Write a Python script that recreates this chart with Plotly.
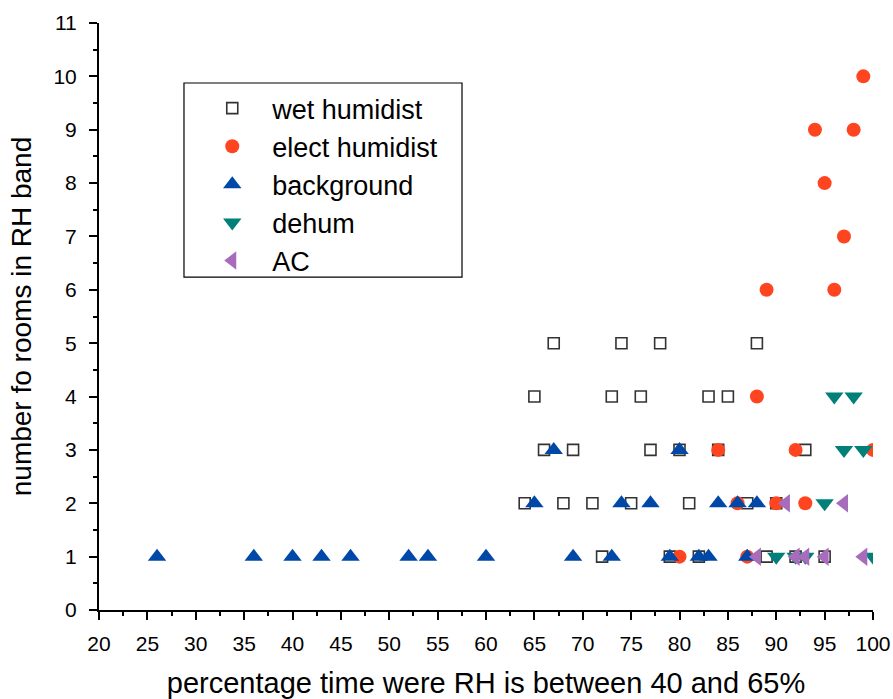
import plotly.graph_objects as go

# ---- data ----
wet_x = [67, 74, 78, 88, 65, 73, 76, 83, 85, 66, 69, 77, 80, 84, 93,
         64, 68, 71, 75, 81, 87, 90, 72, 79, 82, 89, 92, 95]
wet_y = [5, 5, 5, 5, 4, 4, 4, 4, 4, 3, 3, 3, 3, 3, 3,
         2, 2, 2, 2, 2, 2, 2, 1, 1, 1, 1, 1, 1]

elect_x = [99, 94, 98, 95, 97, 89, 96, 88, 84, 92, 100, 86, 90, 93, 80, 87]
elect_y = [10, 9, 9, 8, 7, 6, 6, 4, 3, 3, 3, 2, 2, 2, 1, 1]

bg_x = [67, 80, 65, 74, 77, 84, 86, 88,
        26, 36, 40, 43, 46, 52, 54, 60, 69, 73, 79, 82, 83, 87]
bg_y = [3, 3, 2, 2, 2, 2, 2, 2,
        1, 1, 1, 1, 1, 1, 1, 1, 1, 1, 1, 1, 1, 1]

dehum_x = [96, 98, 97, 99, 95, 90, 92, 93, 100]
dehum_y = [4, 4, 3, 3, 2, 1, 1, 1, 1]

ac_x = [91, 97, 88, 92, 93, 95, 99]
ac_y = [2, 2, 1, 1, 1, 1, 1]

x_ticks = list(range(20, 101, 5))
y_ticks = list(range(0, 12))

FONT = "Liberation Sans, Arial, sans-serif"

fig = go.Figure()
fig.add_trace(go.Scatter(x=wet_x, y=wet_y, mode="markers", name="wet humidist",
                         marker=dict(symbol="square-open", size=11, color="#333333",
                                     line=dict(width=1.6))))
fig.add_trace(go.Scatter(x=elect_x, y=elect_y, mode="markers", name="elect humidist",
                         marker=dict(symbol="circle", size=14, color="#FF4520",
                                     line=dict(width=0))))
fig.add_trace(go.Scatter(x=bg_x, y=bg_y, mode="markers", name="background",
                         marker=dict(symbol="triangle-up", size=16, color="#0048A8",
                                     line=dict(width=0))))
fig.add_trace(go.Scatter(x=dehum_x, y=dehum_y, mode="markers", name="dehum",
                         marker=dict(symbol="triangle-down", size=16, color="#008078",
                                     line=dict(width=0))))
fig.add_trace(go.Scatter(x=ac_x, y=ac_y, mode="markers", name="AC",
                         marker=dict(symbol="triangle-left", size=16, color="#A86CBC",
                                     line=dict(width=0))))

axis_common = dict(showgrid=False, zeroline=False, showline=True, linecolor="black",
                   linewidth=2, ticks="outside", ticklen=8, tickwidth=2,
                   tickcolor="black", tickfont=dict(family=FONT, size=21, color="black"),
                   mirror=False, automargin=False)

fig.update_layout(
    width=893, height=699,
    margin=dict(l=99, r=20, t=23, b=89),
    paper_bgcolor="white", plot_bgcolor="white",
    font=dict(family=FONT, color="black"),
    xaxis=dict(range=[20, 100], tickvals=x_ticks,
               minor=dict(dtick=2.5, tick0=20, ticks="outside", ticklen=4, tickwidth=1.5,
                          tickcolor="black"),
               title=dict(text="percentage time were RH is between 40 and 65%",
                          font=dict(family=FONT, size=29), standoff=24),
               ticklabelstandoff=6,
               **axis_common),
    yaxis=dict(range=[0, 11], tickvals=y_ticks,
               minor=dict(dtick=0.5, tick0=0, ticks="outside", ticklen=4, tickwidth=1.5,
                          tickcolor="black"),
               title=dict(text="number fo rooms in RH band",
                          font=dict(family=FONT, size=28), standoff=14),
               ticklabelstandoff=8,
               **axis_common),
    showlegend=True,
    legend=dict(x=0.1205, y=0.896, xanchor="left", yanchor="top",
                borderwidth=0, bgcolor="rgba(0,0,0,0)",
                font=dict(family=FONT, size=27, color="black"),
                itemwidth=70, traceorder="normal"),
    shapes=[dict(type="rect", xref="paper", yref="paper",
                 x0=0.1098, x1=0.469, y0=0.567, y1=0.8978,
                 line=dict(color="black", width=1.2), fillcolor="white", layer="below")],
)

fig.write_html("out.html",
               config={"displayModeBar": False},
               post_script="document.body.style.margin='0';"
                           "document.body.style.overflow='hidden';")
